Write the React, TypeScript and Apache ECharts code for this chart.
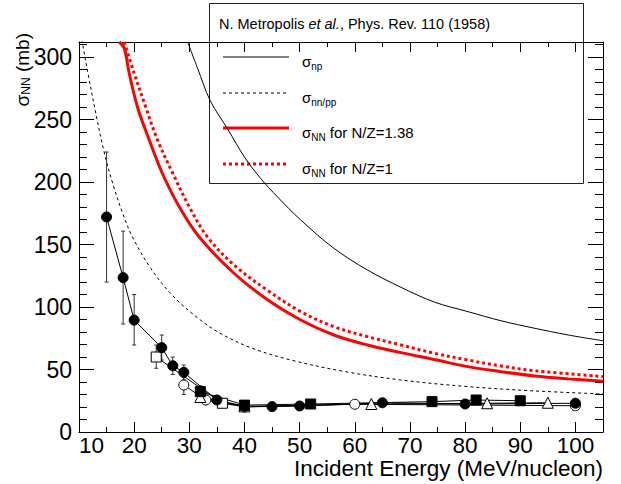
import React, { useEffect, useRef } from 'react';
import * as echarts from 'echarts';

// ---- Curves ----
const npE = [29.7, 31.5, 33.8, 37, 40, 42.9, 46, 50.2, 56.2, 62.3, 68.4, 74.4, 80.5, 86.5, 92.6, 98.7, 105];
const npV = [312, 291, 265, 242, 220, 203, 188, 169.6, 147, 129.6, 115.7, 104, 96.3, 89, 83, 77.6, 73];

const nnE = [10.5, 10.7, 11.8, 13, 14.5, 16.1, 18, 19.7, 23, 27, 32, 36, 41.4, 48.4, 58, 68.4, 80, 92, 105];
const nnV = [314, 309, 283, 256, 225, 199, 174, 156, 131, 109, 89.6, 78, 67, 57.6, 48.5, 41.6, 36.5, 33, 30.4];

const nz138E = [17.3, 18.2, 19.1, 20.6, 22.7, 25.1, 28.2, 31.8, 38.1, 44.1, 50.2, 56.2, 62.3, 68.4, 74.4, 80.5, 86.5, 92.6, 98.7, 105];
const nz138V = [312, 307, 287, 260, 234, 207, 180, 156, 127, 106, 89.6, 77.6, 69.6, 63.5, 58, 52.3, 48.3, 44.8, 42.5, 40.6];

const nz1E = [18.2, 20, 22.1, 24.2, 27, 30, 33.3, 38.1, 44.1, 50.2, 56.2, 62.3, 68.4, 74.4, 80.5, 86.5, 92.6, 105];
const nz1V = [312, 287, 260, 234, 207, 180, 156, 133.6, 113.6, 96.3, 84.3, 76.3, 69.6, 63, 57.6, 52.8, 49, 44.3];

// ---- Data points ----
// filled circles
const fcE = [15, 18, 20, 25, 27, 29, 35, 40, 45, 50, 65, 80, 100];
const fcV = [172, 123.5, 89.5, 67.5, 53, 47.7, 25.6, 20.5, 20.3, 20.8, 23.4, 22.4, 23];
const fcLo = [120, 86.4, 69.6, 57.6, 46, 41.6, 22.5, 18, 18.5, 19, 21.5, 20.5, 21];
const fcHi = [224, 160.7, 110, 77.6, 60, 53.6, 28.7, 23, 22.1, 22.6, 25.3, 24.3, 25];
// open squares
const osE = [24, 36, 40];
const osV = [60, 23, 21];
const osLo = [51, 19.5, 18.5];
const osHi = [69.6, 26.5, 23.5];
// open circles
const ocE = [29, 33, 40, 60, 100];
const ocV = [37.6, 25.6, 20, 22.2, 21];
const ocLo = [30, 22, 17.5, 20.5, 19.5];
const ocHi = [44, 29.5, 22.5, 24, 22.5];
// filled squares
const fsE = [32, 40, 52, 74, 82, 90];
const fsV = [32.3, 21.5, 22.4, 24.3, 25.6, 25];
const fsLo = [27.5, 19, 20.8, 22.6, 23.8, 23.2];
const fsHi = [37, 24, 24, 26, 27.4, 26.8];
// open triangles
const otE = [32, 40, 63, 84, 95];
const otV = [28, 20.5, 22.4, 23, 23.4];
const otLo = [24.5, 18, 20.8, 21.4, 21.8];
const otHi = [31.5, 23, 24, 24.6, 25];

// ---- Axis ticks ----
const xMin = 10, xMax = 105, xMajor = 10, xMinor = 5;
const yMin = 0, yMax = 312, yMajor = 50, yMinor = 10;

const FONT = 'Liberation Sans';

const pairs = (xs: number[], ys: number[]) => xs.map((x, i) => [x, ys[i]]);
const triples = (xs: number[], lo: number[], hi: number[]) => xs.map((x, i) => [x, lo[i], hi[i]]);

function errorSeries(data: number[][]) {
  return {
    type: 'custom',
    z: 3,
    data,
    encode: { x: 0, y: [1, 2] },
    renderItem: (params: any, api: any) => {
      const x = api.value(0);
      const p1 = api.coord([x, api.value(1)]);
      const p2 = api.coord([x, api.value(2)]);
      const st = { stroke: '#333', lineWidth: 1 };
      return {
        type: 'group',
        children: [
          { type: 'line', shape: { x1: p1[0], y1: p1[1], x2: p2[0], y2: p2[1] }, style: st },
          { type: 'line', shape: { x1: p1[0] - 2, y1: p1[1], x2: p1[0] + 2, y2: p1[1] }, style: st },
          { type: 'line', shape: { x1: p2[0] - 2, y1: p2[1], x2: p2[0] + 2, y2: p2[1] }, style: st },
        ],
      };
    },
  };
}

function dataSeries(data: number[][], symbol: string, filled: boolean, size: number) {
  return {
    type: 'line',
    z: 4,
    data,
    symbol,
    symbolSize: size,
    showSymbol: true,
    lineStyle: { color: '#000', width: 1 },
    itemStyle: { color: filled ? '#000' : '#fff', borderColor: '#000', borderWidth: 1 },
    emphasis: { disabled: true },
  };
}

function curve(data: number[][], color: string, width: number, type: any) {
  return {
    type: 'line',
    z: 2,
    data,
    symbol: 'none',
    smooth: 0.35,
    smoothConstraint: false,
    lineStyle: { color, width, type },
    emphasis: { disabled: true },
  };
}

const mainRich = (size: number, sub: number, pad: number) => ({
  g: { fontFamily: FONT, fontSize: size, lineHeight: size + 1, verticalAlign: 'top', color: '#000' },
  i: { fontFamily: FONT, fontSize: size, lineHeight: size + 1, verticalAlign: 'top', fontStyle: 'italic', color: '#000' },
  s: { fontFamily: FONT, fontSize: sub, lineHeight: sub, padding: [pad, 0, 0, 0], verticalAlign: 'top', color: '#000' },
});

export default function App() {
  const ref = useRef<HTMLDivElement>(null);
  useEffect(() => {
    if (!ref.current) return;
    const chart = echarts.init(ref.current, undefined, { renderer: 'svg' });
    const xBase = (pos: string, interval: number, len: number, labels: boolean, line: boolean) => ({
      type: 'value', min: xMin, max: xMax, interval, position: pos,
      axisLine: { show: line, onZero: false, lineStyle: { color: '#000', width: 1 } },
      axisTick: { show: true, inside: true, length: len, lineStyle: { color: '#000', width: 1 } },
      axisLabel: labels ? {
        show: true, fontSize: 22.5, lineHeight: 20, fontFamily: FONT, color: '#000', margin: 3, alignMinLabel: 'left',
        formatter: (v: number) => (v % xMajor === 0 ? String(v) : ''),
      } : { show: false },
      splitLine: { show: false },
    });
    const yBase = (pos: string, interval: number, len: number, labels: boolean, line: boolean) => ({
      type: 'value', min: yMin, max: yMax, interval, position: pos,
      axisLine: { show: line, onZero: false, lineStyle: { color: '#000', width: 1 } },
      axisTick: { show: true, inside: true, length: len, lineStyle: { color: '#000', width: 1 } },
      axisLabel: labels ? {
        show: true, fontSize: 23, lineHeight: 20, fontFamily: FONT, color: '#000', margin: 7,
        formatter: (v: number) => (v % yMajor === 0 ? String(v) : ''),
      } : { show: false },
      splitLine: { show: false },
    });

    const legendX1 = 223, legendX2 = 289, legendTextX = 302;
    const rows = [57, 93, 128, 164];

    chart.setOption({
      animation: false,
      backgroundColor: '#fff',
      grid: { left: 79, right: 18, top: 42, bottom: 52, containLabel: false, outerBoundsMode: 'none' },
      xAxis: [
        xBase('bottom', xMajor, 10, true, true),
        xBase('bottom', xMinor, 5, false, false),
        xBase('top', xMajor, 10, false, true),
        xBase('top', xMinor, 5, false, false),
      ],
      yAxis: [
        yBase('left', yMajor, 15, true, true),
        yBase('left', yMinor, 8, false, false),
        yBase('right', yMajor, 15, false, true),
        yBase('right', yMinor, 8, false, false),
      ],
      series: [
        curve(pairs(npE, npV), '#000', 1, 'solid'),
        curve(pairs(nnE, nnV), '#000', 1, [3, 3]),
        curve(pairs(nz138E, nz138V), '#ff0000', 3, 'solid'),
        curve(pairs(nz1E, nz1V), '#ff0000', 3, [3, 3]),
        errorSeries(triples(fcE, fcLo, fcHi)),
        errorSeries(triples(osE, osLo, osHi)),
        errorSeries(triples(ocE, ocLo, ocHi)),
        errorSeries(triples(fsE, fsLo, fsHi)),
        errorSeries(triples(otE, otLo, otHi)),
        dataSeries(pairs(osE, osV), 'rect', false, 10),
        dataSeries(pairs(ocE, ocV), 'circle', false, 10),
        dataSeries(pairs(otE, otV), 'triangle', false, 11),
        dataSeries(pairs(fsE, fsV), 'rect', true, 10),
        dataSeries(pairs(fcE, fcV), 'circle', true, 10),
      ],
      graphic: [
        {
          type: 'text', x: 23, y: 33, rotation: Math.PI / 2, z: 100,
          style: { text: '{g|σ}{s|NN}{g| (mb)}', align: 'right', verticalAlign: 'middle', rich: mainRich(19, 12, 7) },
        },
        {
          type: 'text', x: 603, y: 468, z: 100,
          style: { text: 'Incident Energy (MeV/nucleon)', fontFamily: FONT, fontSize: 22.5, lineHeight: 20, fill: '#000', align: 'right', verticalAlign: 'middle' },
        },
        {
          type: 'group', z: 100,
          children: [
            { type: 'rect', shape: { x: 209.5, y: 3.5, width: 374, height: 180 }, style: { fill: '#fff', stroke: '#222', lineWidth: 1 } },
            {
              type: 'text', x: 219, y: 24,
              style: { text: '{g|N. Metropolis }{i|et al.}{g|, Phys. Rev. 110 (1958)}', verticalAlign: 'middle', rich: mainRich(14.5, 10, 6) },
            },
            { type: 'line', shape: { x1: legendX1, y1: rows[0], x2: legendX2, y2: rows[0] }, style: { stroke: '#000', lineWidth: 1 } },
            { type: 'line', shape: { x1: legendX1, y1: rows[1], x2: legendX2, y2: rows[1] }, style: { stroke: '#000', lineWidth: 1, lineDash: [3, 3] } },
            { type: 'line', shape: { x1: legendX1, y1: rows[2], x2: legendX2, y2: rows[2] }, style: { stroke: '#ff0000', lineWidth: 3 } },
            { type: 'line', shape: { x1: legendX1, y1: rows[3], x2: legendX2, y2: rows[3] }, style: { stroke: '#ff0000', lineWidth: 3, lineDash: [3, 3] } },
            { type: 'text', x: legendTextX, y: rows[0] + 5, style: { text: '{g|σ}{s|np}', verticalAlign: 'middle', rich: mainRich(15, 10, 7) } },
            { type: 'text', x: legendTextX, y: rows[1] + 5, style: { text: '{g|σ}{s|nn/pp}', verticalAlign: 'middle', rich: mainRich(15, 10, 7) } },
            { type: 'text', x: legendTextX, y: rows[2] + 5, style: { text: '{g|σ}{s|NN}{g| for N/Z=1.38}', verticalAlign: 'middle', rich: mainRich(15, 10, 7) } },
            { type: 'text', x: legendTextX, y: rows[3] + 5, style: { text: '{g|σ}{s|NN}{g| for N/Z=1}', verticalAlign: 'middle', rich: mainRich(15, 10, 7) } },
          ],
        },
      ],
    });
    return () => chart.dispose();
  }, []);
  return <div ref={ref} style={{ position: 'absolute', left: 0, top: 0, width: 621, height: 484 }} />;
}
